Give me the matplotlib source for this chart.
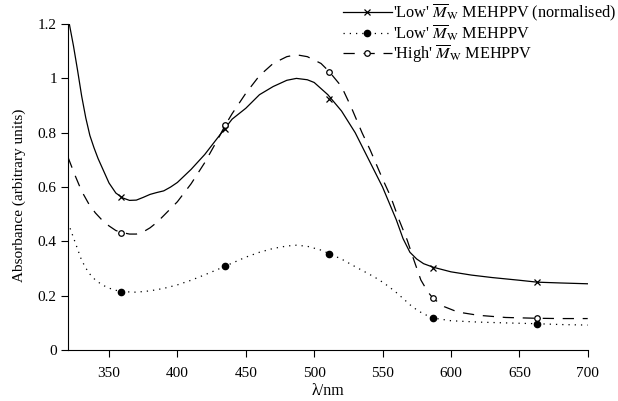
import matplotlib
matplotlib.use("Agg")
import matplotlib.pyplot as plt

plt.rcParams['font.family'] = ['Liberation Serif', 'DejaVu Serif']
plt.rcParams['mathtext.fontset'] = 'stix'

# curves (nm, absorbance)
wl_low_norm = [321, 324, 327, 330, 333, 336, 339, 342, 346, 350, 355, 360, 365, 370, 375, 380, 385, 390,
               395, 400, 410, 420, 430, 440, 450, 460, 470, 480, 487, 495, 500, 510, 520,
               530, 540, 550, 560, 565, 570, 575, 580, 587, 600, 615, 630, 650, 663, 680, 700]
abs_low_norm = [1.20, 1.12, 1.03, 0.935, 0.855, 0.79, 0.745, 0.705, 0.66, 0.615, 0.578, 0.56, 0.551, 0.552, 0.562, 0.573, 0.58, 0.586,
                0.60, 0.617, 0.665, 0.72, 0.785, 0.85, 0.89, 0.94, 0.97, 0.993, 1.0, 0.995, 0.985, 0.94, 0.88,
                0.80, 0.70, 0.60, 0.48, 0.41, 0.36, 0.335, 0.318, 0.305, 0.288, 0.276, 0.267, 0.257, 0.25, 0.247, 0.244]

wl_low = [320, 325, 330, 335, 340, 345, 350, 355, 360, 370, 380, 390, 400, 410, 420, 430, 440,
          450, 460, 470, 480, 487, 495, 505, 511, 520, 530, 540, 545, 550, 555, 560, 565, 570, 575, 580, 587,
          600, 620, 640, 663, 680, 700]
abs_low = [0.47, 0.40, 0.33, 0.285, 0.258, 0.24, 0.228, 0.22, 0.215, 0.213, 0.218, 0.227, 0.24, 0.257, 0.277, 0.298, 0.32,
           0.342, 0.36, 0.374, 0.383, 0.386, 0.382, 0.368, 0.355, 0.335, 0.307, 0.28, 0.266, 0.25, 0.232, 0.212, 0.19, 0.167,
           0.148, 0.133, 0.118, 0.108, 0.103, 0.10, 0.097, 0.094, 0.092]

wl_high = [320, 325, 330, 335, 340, 345, 350, 355, 360, 365, 370, 375, 380, 385, 390, 400, 410,
           420, 430, 435, 440, 450, 460, 470, 480, 487, 495, 505, 511, 520, 527, 535, 541, 550,
           556, 562, 568, 573, 578, 583, 587, 595, 605, 620, 640, 663, 680, 700]
abs_high = [0.71, 0.645, 0.585, 0.54, 0.505, 0.478, 0.457, 0.44, 0.432, 0.427, 0.427, 0.435, 0.45, 0.47, 0.495, 0.546, 0.612,
            0.69, 0.78, 0.828, 0.87, 0.945, 1.01, 1.055, 1.08, 1.087, 1.08, 1.055, 1.025, 0.97, 0.895, 0.80, 0.736, 0.63,
            0.564, 0.48, 0.405, 0.33, 0.258, 0.215, 0.19, 0.16, 0.14, 0.128, 0.12, 0.117, 0.116, 0.116]

# marker positions
wl_marks = [359, 435, 511, 587, 663]
mark_low_norm = [0.563, 0.815, 0.923, 0.303, 0.25]
mark_low = [0.215, 0.31, 0.355, 0.118, 0.096]
mark_high = [0.432, 0.828, 1.025, 0.19, 0.117]

labels = ["'Low' $\\overline{M}_{\\mathrm{W}}$ MEHPPV (normalised)",
          "'Low' $\\overline{M}_{\\mathrm{W}}$ MEHPPV",
          "'High' $\\overline{M}_{\\mathrm{W}}$ MEHPPV"]

fig = plt.figure(figsize=(6.18, 4.01), dpi=100)
ax = fig.add_axes([0.110, 0.127, 0.841, 0.813])

lw = 0.9
ax.plot(wl_low_norm, abs_low_norm, color='black', lw=lw)
ax.plot(wl_marks, mark_low_norm, ls='none', marker='x', ms=5, mew=0.9, color='black')
ax.plot(wl_low, abs_low, color='black', lw=lw, dashes=[1, 4])
ax.plot(wl_marks, mark_low, ls='none', marker='o', ms=4.5, color='black')
ax.plot(wl_high, abs_high, color='black', lw=lw, dashes=[9, 7])
ax.plot(wl_marks, mark_high, ls='none', marker='o', ms=4, mfc='white', mec='black', mew=0.9)

# legend handles: line with marker in the middle
h1, = ax.plot([], [], color='black', lw=lw, marker='x', ms=5, mew=0.9)
h2, = ax.plot([], [], color='black', lw=lw, dashes=[1, 4], marker='o', ms=4.5)
h3, = ax.plot([], [], color='black', lw=lw, dashes=[9, 7], marker='o', ms=4, mfc='white', mew=0.9)
fig.legend([h1, h2, h3], labels, loc='upper right', bbox_to_anchor=(1.0, 1.0),
           frameon=False, fontsize=11.7, handlelength=3.0, handletextpad=0.1,
           labelspacing=0.0, borderpad=0.1, borderaxespad=0.0)

ax.set_xlim(320, 700)
ax.set_ylim(0, 1.2)
ax.set_xticks([350, 400, 450, 500, 550, 600, 650, 700])
ax.set_yticks([0, 0.2, 0.4, 0.6, 0.8, 1.0, 1.2])
ax.set_yticklabels(['0', '0.2', '0.4', '0.6', '0.8', '1', '1.2'])
ax.tick_params(direction='out', length=5, width=0.8, labelsize=11)
ax.tick_params(axis='x', pad=7)
ax.tick_params(axis='y', pad=3)

for side in ['top', 'right']:
    ax.spines[side].set_visible(False)
for side in ['left', 'bottom']:
    ax.spines[side].set_linewidth(0.8)

ax.set_xlabel('λ/nm', fontsize=11.5, labelpad=2)
ax.set_ylabel('Absorbance (arbitrary units)', fontsize=11)
ax.yaxis.set_label_coords(-0.08, 0.475)

fig.savefig('out.png', dpi=100)
